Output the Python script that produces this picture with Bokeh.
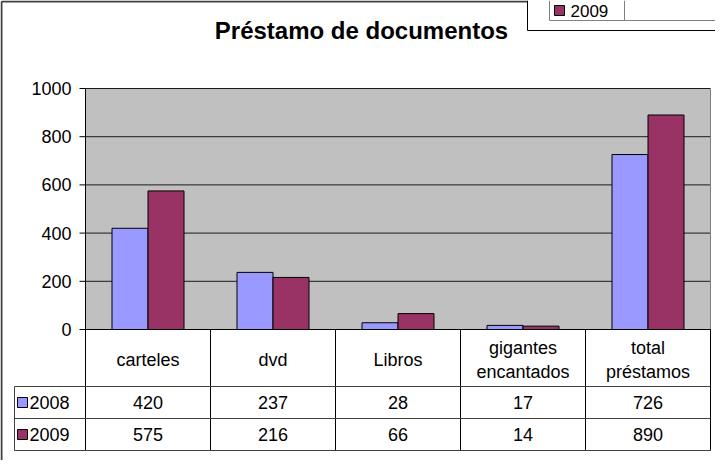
import numpy as np
from bokeh.plotting import figure
from bokeh.models import Range1d
from bokeh.core.properties import value
from bokeh.embed import file_html
from bokeh.resources import INLINE

# ---------------- data ----------------
title = "Préstamo de documentos"
categories = ["carteles", "dvd", "Libros", "gigantes encantados", "total préstamos"]
years = ["2008", "2009"]
values_2008 = [420, 237, 28, 17, 726]
values_2009 = [575, 216, 66, 14, 890]
y_ticks = [0, 200, 400, 600, 800, 1000]
colors = ["#9999FF", "#993366"]

# ---------------- layout helpers (window pixels -> data units) ----------------
W, H = 715, 460
OFF = 8
PLOT_L, PLOT_R = 93, 718          # window px of plot area
ZERO_Y, TOP_Y = 337, 96           # window px of value 0 and 1000
COL_W = (PLOT_R - PLOT_L) / len(categories)
PPU = (ZERO_Y - TOP_Y) / 1000.0

def X(wx):
    return (wx - PLOT_L) / COL_W

def Y(wy):
    return (ZERO_Y - wy) / PPU

FONT = value("Liberation Sans")
FS = value("18px")

p = figure(width=W, height=H, output_backend="svg", toolbar_location=None,
           x_range=Range1d(X(OFF), X(OFF + W)), y_range=Range1d(Y(OFF + H), Y(OFF)),
           min_border=0, background_fill_color="white", border_fill_color="white")
p.axis.visible = False
p.grid.visible = False
p.outline_line_color = None

n = len(categories)
idx = np.arange(n)
ymax = y_ticks[-1]

# plot area background
p.quad(left=[0], right=[n], bottom=[0], top=[ymax], fill_color="#C0C0C0", line_color=None)
# gridlines
p.segment(x0=[0] * len(y_ticks[1:]), x1=[n] * len(y_ticks[1:]), y0=y_ticks[1:], y1=y_ticks[1:],
          line_color="#1a1a1a", line_width=1)
# plot area right border
p.segment(x0=[n], x1=[n], y0=[0], y1=[ymax], line_color="#808080", line_width=1)

# bars
bw = 36 / COL_W
p.vbar(x=idx + 0.5 - bw / 2, top=values_2008, width=bw, bottom=0,
       fill_color=colors[0], line_color="black", line_width=1)
p.vbar(x=idx + 0.5 + bw / 2, top=values_2009, width=bw, bottom=0,
       fill_color=colors[1], line_color="black", line_width=1)

# y axis line, ticks, labels
p.segment(x0=[0], x1=[0], y0=[0], y1=[ymax], line_color="black", line_width=1)
p.segment(x0=[X(87)] * len(y_ticks), x1=[0] * len(y_ticks), y0=y_ticks, y1=y_ticks,
          line_color="black", line_width=1)
p.text(x=[X(79)] * len(y_ticks), y=y_ticks, text=[str(t) for t in y_ticks],
       text_align="right", text_baseline="middle", text_font=FONT,
       text_font_size=FS, text_color="black")

# ---------------- data table ----------------
row_top, row1, row2, row_bot = ZERO_Y, 394, 426, 458
# vertical lines of columns
p.segment(x0=list(range(n + 1)), x1=list(range(n + 1)),
          y0=[Y(row_top)] * (n + 1), y1=[Y(row_bot)] * (n + 1),
          line_color="black", line_width=1)
# axis line at zero
p.segment(x0=[0], x1=[n], y0=[0], y1=[0], line_color="black", line_width=1)
# horizontal lines
p.segment(x0=[X(22)] * 3, x1=[n] * 3, y0=[Y(row1), Y(row2), Y(row_bot)],
          y1=[Y(row1), Y(row2), Y(row_bot)], line_color="#404040", line_width=1)
# row label left border
p.segment(x0=[X(22)], x1=[X(22)], y0=[Y(row1)], y1=[Y(row_bot)], line_color="#404040", line_width=1)

# headers
p.text(x=idx + 0.5, y=[Y(367)] * n, text=[c.replace(" ", "\n") for c in categories],
       text_align="center", text_baseline="middle", text_font=FONT,
       text_font_size=FS, text_line_height=1.2, text_color="black")
# values
p.text(x=idx + 0.5, y=[Y(410)] * n, text=[str(v) for v in values_2008],
       text_align="center", text_baseline="middle", text_font=FONT,
       text_font_size=FS, text_color="black")
p.text(x=idx + 0.5, y=[Y(442)] * n, text=[str(v) for v in values_2009],
       text_align="center", text_baseline="middle", text_font=FONT,
       text_font_size=FS, text_color="black")
# row legend keys
row_centers = [Y(410), Y(442)]
p.rect(x=[X(30)] * 2, y=row_centers, width=10 / COL_W, height=10 / PPU,
       fill_color=colors, line_color="black", line_width=1)
p.text(x=[X(37)] * 2, y=row_centers, text=years, text_align="left", text_baseline="middle",
       text_font=FONT, text_font_size=FS, text_color="black")

# ---------------- chart frame, title, legend ----------------
# outer chart border
p.segment(x0=[X(9), X(9)], x1=[X(9), X(535)], y0=[Y(9), Y(9)], y1=[Y(OFF + H), Y(9)],
          line_color="#404040", line_width=2)
# title
p.text(x=[X(369)], y=[Y(38)], text=[title], text_align="center", text_baseline="middle",
       text_font=FONT, text_font_style="bold", text_font_size=value("24px"), text_color="black")

# legend box (top right, partly outside)
p.segment(x0=[X(535), X(535)], x1=[X(535), X(OFF + W)], y0=[Y(OFF), Y(38)], y1=[Y(38), Y(38)],
          line_color="black", line_width=1)
p.segment(x0=[X(557), X(557), X(632)], x1=[X(557), X(OFF + W), X(632)],
          y0=[Y(OFF), Y(28), Y(OFF)], y1=[Y(28), Y(28), Y(28)],
          line_color="#808080", line_width=1)
p.rect(x=[X(567)], y=[Y(18)], width=10 / COL_W, height=10 / PPU,
       fill_color=colors[1], line_color="black", line_width=1)
p.text(x=[X(578)], y=[Y(18)], text=[years[1]], text_align="left", text_baseline="middle",
       text_font=FONT, text_font_size=value("17px"), text_color="black")

open("out.html", "w").write(file_html(p, INLINE))
